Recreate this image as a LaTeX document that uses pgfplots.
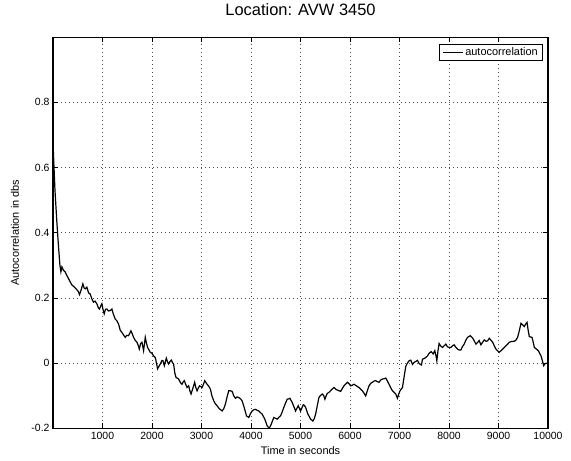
\documentclass[border=0pt]{standalone}
\usepackage{fontspec}
\setmainfont{Liberation Sans}
\usepackage{pgfplots}
\pgfplotsset{compat=1.18}

\begin{document}
\begin{tikzpicture}
\begin{axis}[
  name=ax,
  scale only axis,
  width=495bp, height=391bp,
  xmin=0, xmax=10000, ymin=-0.2, ymax=1,
  xtick={1000,2000,...,10000},
  ytick={-0.2,0,0.2,0.4,0.6,0.8},
  scaled x ticks=false,
  /pgf/number format/1000 sep={},
  /pgf/number format/assume math mode=true,
  yticklabel style={/pgf/number format/fixed},
  tick align=inside,
  major tick length=5bp,
  axis line style={line width=1.1bp},
  tick style={black, line width=0.6bp},
  grid=major,
  major grid style={black!70, line width=0.5bp, dash pattern=on 0.7bp off 3.3bp},
  tick label style={font=\fontsize{10.5}{12}\selectfont},
  title={Location: AVW 3450},
  title style={font=\fontsize{16.5}{18}\selectfont, at={(axis description cs:0.5,1.056)}, anchor=center},
  xlabel={Time in seconds},
  xlabel style={font=\fontsize{11}{13}\selectfont, at={(axis description cs:0.5,-0.056)}, anchor=center},
  ylabel={Autocorrelation in dbs},
  ylabel style={font=\fontsize{11}{13}\selectfont, at={(axis description cs:-0.077,0.5)}, anchor=center},
  legend style={at={(axis description cs:0.99,0.983)}, anchor=north east, draw=black, line width=0.6bp,
    font=\fontsize{11}{13}\selectfont, inner xsep=3bp, inner ysep=1.5bp, row sep=-1bp},
  legend cell align=left,
  legend image code/.code={\draw[#1] (0cm,0cm) -- (0.7cm,0cm);},
]
\addplot[black, line width=1.2bp] coordinates {
(0,0.68)(15,0.62)(40,0.53)(75,0.44)(110,0.36)(140,0.30)(160,0.28)(180,0.295)(210,0.285)(245,0.28)
(279,0.269)(312,0.26)(345,0.25)(380,0.24)(420,0.235)(482,0.225)(510,0.22)(535,0.21)(570,0.225)(603,0.243)
(630,0.23)(650,0.228)(684,0.233)(720,0.215)(751,0.212)(790,0.195)(818,0.187)(850,0.19)(886,0.182)(915,0.17)
(939,0.166)(965,0.175)(987,0.182)(1010,0.165)(1034,0.151)(1060,0.165)(1089,0.166)(1120,0.16)(1156,0.161)(1190,0.166)
(1220,0.15)(1257,0.135)(1290,0.13)(1324,0.12)(1360,0.1)(1392,0.094)(1430,0.085)(1459,0.079)(1490,0.085)(1527,0.084)
(1574,0.099)(1600,0.09)(1628,0.079)(1660,0.07)(1696,0.064)(1720,0.055)(1743,0.043)(1770,0.06)(1797,0.064)(1830,0.038)
(1864,0.079)(1890,0.06)(1911,0.048)(1940,0.04)(1965,0.033)(2000,0.03)(2032,0.022)(2067,0.017)(2090,0.0)(2113,-0.018)
(2140,-0.01)(2168,-0.003)(2200,0.008)(2222,0.007)(2249,-0.008)(2289,0.015)(2310,0.005)(2336,-0.003)(2365,0.005)(2390,0.009)
(2420,0.0)(2437,-0.003)(2460,-0.03)(2485,-0.044)(2538,-0.049)(2575,-0.06)(2607,-0.065)(2630,-0.058)(2653,-0.054)(2680,-0.065)
(2708,-0.075)(2741,-0.07)(2765,-0.085)(2789,-0.095)(2810,-0.085)(2830,-0.075)(2862,-0.059)(2885,-0.075)(2911,-0.085)(2940,-0.075)
(2963,-0.07)(3012,-0.075)(3040,-0.065)(3064,-0.054)(3090,-0.06)(3113,-0.065)(3150,-0.072)(3180,-0.08)(3210,-0.1)(3247,-0.116)
(3280,-0.125)(3315,-0.131)(3360,-0.14)(3416,-0.147)(3450,-0.14)(3483,-0.126)(3515,-0.105)(3550,-0.085)(3585,-0.085)(3619,-0.087)
(3650,-0.1)(3686,-0.108)(3720,-0.104)(3753,-0.106)(3790,-0.11)(3821,-0.116)(3860,-0.135)(3909,-0.162)(3955,-0.167)(3990,-0.155)
(4024,-0.147)(4060,-0.143)(4091,-0.142)(4125,-0.145)(4157,-0.147)(4190,-0.152)(4226,-0.157)(4279,-0.172)(4327,-0.193)(4368,-0.2)
(4408,-0.188)(4440,-0.175)(4461,-0.167)(4500,-0.17)(4530,-0.172)(4565,-0.166)(4597,-0.162)(4630,-0.15)(4663,-0.136)(4700,-0.122)
(4732,-0.111)(4760,-0.11)(4785,-0.108)(4833,-0.121)(4870,-0.135)(4900,-0.147)(4930,-0.138)(4955,-0.131)(4980,-0.14)(5002,-0.147)
(5030,-0.137)(5056,-0.128)(5080,-0.13)(5103,-0.136)(5150,-0.157)(5180,-0.165)(5204,-0.172)(5250,-0.178)(5280,-0.17)(5305,-0.157)
(5340,-0.13)(5372,-0.106)(5400,-0.1)(5440,-0.095)(5470,-0.1)(5493,-0.111)(5520,-0.1)(5541,-0.093)(5575,-0.09)(5608,-0.085)
(5640,-0.08)(5675,-0.075)(5710,-0.08)(5744,-0.083)(5780,-0.085)(5811,-0.087)(5845,-0.078)(5878,-0.07)(5910,-0.065)(5946,-0.059)
(5980,-0.063)(6013,-0.07)(6045,-0.068)(6080,-0.065)(6130,-0.07)(6181,-0.075)(6215,-0.08)(6250,-0.085)(6285,-0.093)(6317,-0.101)
(6350,-0.085)(6384,-0.07)(6420,-0.062)(6452,-0.059)(6490,-0.055)(6519,-0.054)(6550,-0.057)(6586,-0.059)(6620,-0.052)(6655,-0.049)
(6690,-0.048)(6722,-0.046)(6755,-0.055)(6789,-0.065)(6820,-0.075)(6857,-0.085)(6890,-0.09)(6924,-0.095)(6958,-0.108)(6985,-0.095)
(7011,-0.085)(7060,-0.075)(7090,-0.045)(7127,-0.01)(7160,0.0)(7193,0.007)(7228,0.009)(7262,-0.004)(7295,0.002)(7329,0.005)
(7363,0.008)(7400,-0.002)(7444,-0.006)(7464,0.012)(7500,0.014)(7531,0.017)(7565,0.022)(7598,0.03)(7640,0.035)(7680,0.028)
(7713,0.038)(7740,0.02)(7754,0.007)(7775,0.035)(7800,0.06)(7835,0.052)(7869,0.048)(7900,0.053)(7936,0.058)(7970,0.05)
(8004,0.048)(8037,0.048)(8072,0.053)(8104,0.056)(8140,0.048)(8173,0.043)(8206,0.04)(8240,0.04)(8270,0.05)(8306,0.058)
(8340,0.07)(8375,0.079)(8428,0.084)(8477,0.077)(8510,0.068)(8543,0.058)(8575,0.063)(8610,0.069)(8644,0.056)(8680,0.064)
(8711,0.071)(8750,0.067)(8780,0.068)(8813,0.076)(8850,0.07)(8881,0.064)(8915,0.053)(8948,0.043)(8980,0.038)(9015,0.033)
(9050,0.038)(9084,0.043)(9118,0.048)(9151,0.053)(9185,0.058)(9218,0.064)(9260,0.066)(9319,0.067)(9350,0.07)(9387,0.079)
(9420,0.099)(9454,0.122)(9490,0.117)(9521,0.112)(9550,0.12)(9576,0.125)(9600,0.1)(9623,0.081)(9650,0.08)(9677,0.079)
(9700,0.065)(9724,0.048)(9765,0.043)(9805,0.038)(9830,0.03)(9859,0.022)(9885,0.008)(9913,-0.008)(9940,-0.002)(9960,-0.001)
(10000,0.0)
};
\addlegendentry{autocorrelation}
\end{axis}
\path ([xshift=-53bp,yshift=-32bp]ax.south west) rectangle ([xshift=23bp,yshift=34bp]ax.north east);
\end{tikzpicture}
\end{document}
